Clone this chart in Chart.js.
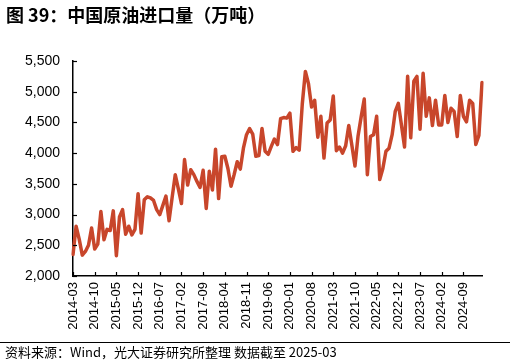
<!DOCTYPE html>
<html>
<head>
<meta charset="utf-8">
<script src="https://cdn.jsdelivr.net/npm/chart.js@4.4.1/dist/chart.umd.min.js"></script>
<style>
html,body{margin:0;padding:0;background:#fff;}
#wrap{position:relative;width:516px;height:364px;overflow:hidden;background:#fff;}
#title{position:absolute;left:6px;top:3px;font-weight:bold;font-size:18px;font-family:"Noto Sans CJK SC","Noto Sans",sans-serif;color:#000;white-space:nowrap;line-height:22px;}
#rule{position:absolute;left:0;top:342px;width:510px;height:0;border-top:1px solid #000;}
#source{position:absolute;left:5px;top:344px;font-size:13px;font-family:"Noto Sans CJK SC","Noto Sans",sans-serif;color:#000;white-space:nowrap;line-height:16px;}
canvas{position:absolute;left:0;top:0;}
</style>
</head>
<body>
<div id="wrap">
  <canvas id="c" width="516" height="364"></canvas>
  <div id="title">图 39：中国原油进口量（万吨）</div>
  <div id="rule"></div>
  <div id="source">资料来源：Wind，光大证券研究所整理 数据截至 2025-03</div>
</div>
<script>
// ---- categories: monthly, 2014-03 .. 2025-03 ----
const startYear = 2014, startMonth = 3, endYear = 2025, endMonth = 3;
const categories = [];
for (let y = startYear; y <= endYear; y++) {
  const m0 = (y === startYear) ? startMonth : 1;
  const m1 = (y === endYear) ? endMonth : 12;
  for (let m = m0; m <= m1; m++) categories.push(y + '-' + String(m).padStart(2, '0'));
}

// ---- series: China crude oil imports (10k tonnes) ----
const imports2014 = [2350, 2810, 2600, 2340, 2400, 2500, 2780, 2440, 2520, 3050]; // Mar-Dec
const imports2015 = [2590, 2760, 2740, 3060, 2330, 2960, 3080, 2680, 2810, 2670, 2760, 3340];
const imports2016 = [2700, 3240, 3290, 3270, 3230, 3080, 3000, 3150, 3300, 2900, 3280, 3650];
const imports2017 = [3417, 3180, 3895, 3480, 3730, 3650, 3540, 3440, 3720, 3100, 3705, 3400];
const imports2018 = [4064, 3260, 3940, 3950, 3750, 3460, 3650, 3860, 3740, 4080, 4300, 4400];
const imports2019 = [4310, 3950, 3960, 4400, 4030, 3980, 4110, 4230, 4140, 4560, 4580, 4570];
const imports2020 = [4650, 4030, 4090, 4050, 4800, 5330, 5130, 4750, 4860, 4260, 4600, 3920];
const imports2021 = [4490, 4540, 4930, 4040, 4100, 4000, 4120, 4450, 4130, 3790, 4280, 4590];
const imports2022 = [4880, 3650, 4270, 4300, 4600, 3570, 3750, 4030, 4080, 4300, 4680, 4810];
const imports2023 = [4460, 4100, 5250, 4250, 5170, 5250, 4390, 5300, 4600, 4900, 4450, 4860];
const imports2024 = [4460, 4460, 4940, 4500, 4730, 4680, 4270, 4940, 4600, 4510, 4860, 4810];
const imports2025 = [4140, 4290, 5150]; // Jan-Mar
const crudeImports = [].concat(imports2014, imports2015, imports2016, imports2017, imports2018,
  imports2019, imports2020, imports2021, imports2022, imports2023, imports2024, imports2025);

// ---- axis settings ----
const yMin = 2000, yMax = 5500, yStep = 500;
const xLabelEvery = 7;

const inwardTicks = {
  id: 'inwardTicks',
  afterDraw(chart) {
    const ctx = chart.ctx, a = chart.chartArea;
    const xs = chart.scales.x, ys = chart.scales.y;
    ctx.save();
    ctx.strokeStyle = '#000';
    ctx.lineWidth = 1.2;
    ys.ticks.forEach(t => {
      const py = Math.round(ys.getPixelForValue(t.value)) + 0.5;
      ctx.beginPath(); ctx.moveTo(a.left, py); ctx.lineTo(a.left + 4, py); ctx.stroke();
    });
    for (let i = 0; i < categories.length; i += xLabelEvery) {
      const px = Math.round(xs.getPixelForValue(i)) + 0.5;
      ctx.beginPath(); ctx.moveTo(px, a.bottom); ctx.lineTo(px, a.bottom - 4); ctx.stroke();
    }
    ctx.restore();
  }
};

new Chart(document.getElementById('c'), {
  type: 'line',
  data: {
    labels: categories,
    datasets: [{
      data: crudeImports,
      borderColor: '#C8462B',
      borderWidth: 3.5,
      pointRadius: 0,
      tension: 0,
      borderJoinStyle: 'round',
      borderCapStyle: 'round',
      fill: false
    }]
  },
  options: {
    responsive: false,
    animation: false,
    locale: 'en-US',
    layout: { padding: { left: 0, right: 34, top: 61, bottom: 28 } },
    plugins: { legend: { display: false }, tooltip: { enabled: false } },
    scales: {
      x: {
        type: 'category',
        offset: false,
        grid: { display: false, drawTicks: false },
        border: { display: true, color: '#000', width: 1.5 },
        ticks: {
          autoSkip: false,
          maxRotation: 90,
          minRotation: 90,
          padding: 6,
          color: '#000',
          font: { family: '"Liberation Sans", Arial, sans-serif', size: 13 },
          callback: (v, i) => (i % xLabelEvery === 0 ? categories[i] : '')
        },
        afterFit: s => { s.height = 60; }
      },
      y: {
        min: yMin,
        max: yMax,
        grid: { display: false, drawTicks: false },
        border: { display: true, color: '#000', width: 1.5 },
        ticks: {
          stepSize: yStep,
          padding: 13,
          color: '#000',
          font: { family: '"Liberation Sans", Arial, sans-serif', size: 14 }
        },
        afterFit: s => { s.width = 73; }
      }
    }
  },
  plugins: [inwardTicks]
});
</script>
</body>
</html>
